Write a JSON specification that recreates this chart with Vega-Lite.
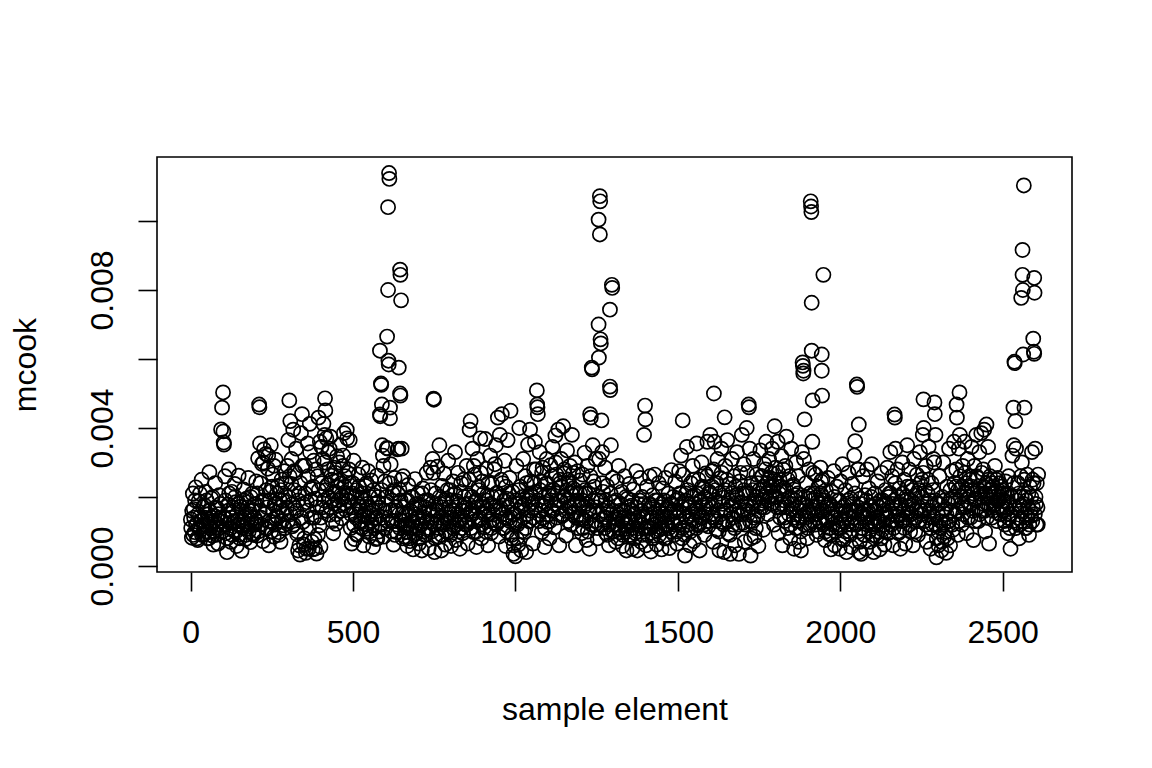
{
  "$schema": "https://vega.github.io/schema/vega-lite/v6.json",
  "autosize": "none",
  "padding": {"left": 157, "top": 157, "right": 80, "bottom": 196},
  "width": 915,
  "height": 415,
  "background": "white",
  "config": {
    "view": {"stroke": "black", "strokeWidth": 1.6},
    "axis": {
      "labelFont": "Liberation Sans",
      "titleFont": "Liberation Sans",
      "labelFontSize": 32,
      "titleFontSize": 32,
      "titleFontWeight": "normal",
      "labelColor": "black",
      "titleColor": "black",
      "tickColor": "black",
      "tickWidth": 1.6,
      "tickSize": 19,
      "grid": false,
      "domain": false,
      "labelOverlap": false,
      "labelFlush": false,
      "labelBound": false
    }
  },
  "data": {"values": [
    {"x":1,"y":0.00135},{"x":4,"y":0.00082},{"x":7,"y":0.00210},{"x":10,"y":0.00165},{"x":13,"y":0.00098},{"x":16,"y":0.00228},{"x":19,"y":0.00120},{"x":22,"y":0.00075},{"x":25,"y":0.00188},{"x":28,"y":0.00142},{"x":31,"y":0.00105},{"x":34,"y":0.00250},{"x":37,"y":0.00132},{"x":40,"y":0.00091},{"x":43,"y":0.00176},{"x":46,"y":0.00215},{"x":49,"y":0.00118},{"x":52,"y":0.00080},{"x":55,"y":0.00150},{"x":58,"y":0.00272},{"x":61,"y":0.00128},{"x":64,"y":0.00196},{"x":67,"y":0.00088},{"x":70,"y":0.00062},{"x":73,"y":0.00145},{"x":76,"y":0.00240},{"x":79,"y":0.00112},{"x":82,"y":0.00168},{"x":85,"y":0.00065},{"x":88,"y":0.00205},{"x":91,"y":0.00138},{"x":94,"y":0.00396},{"x":97,"y":0.00459},{"x":100,"y":0.00503},{"x":101,"y":0.00390},{"x":102,"y":0.00358},{"x":103,"y":0.00352},{"x":106,"y":0.00260},{"x":109,"y":0.00095},{"x":112,"y":0.00040},{"x":115,"y":0.00178},{"x":118,"y":0.00280},{"x":121,"y":0.00125},{"x":124,"y":0.00070},{"x":127,"y":0.00215},{"x":130,"y":0.00155},{"x":133,"y":0.00102},{"x":136,"y":0.00238},{"x":139,"y":0.00185},{"x":142,"y":0.00058},{"x":145,"y":0.00130},{"x":148,"y":0.00262},{"x":151,"y":0.00090},{"x":154,"y":0.00172},{"x":157,"y":0.00044},{"x":160,"y":0.00118},{"x":163,"y":0.00222},{"x":166,"y":0.00140},{"x":169,"y":0.00078},{"x":172,"y":0.00195},{"x":175,"y":0.00108},{"x":178,"y":0.00255},{"x":181,"y":0.00160},{"x":184,"y":0.00069},{"x":187,"y":0.00132},{"x":190,"y":0.00210},{"x":193,"y":0.00095},{"x":196,"y":0.00178},{"x":199,"y":0.00120},
    {"x":202,"y":0.00245},{"x":205,"y":0.00088},{"x":208,"y":0.00312},{"x":211,"y":0.00468},{"x":212,"y":0.00460},{"x":214,"y":0.00355},{"x":217,"y":0.00140},{"x":220,"y":0.00296},{"x":223,"y":0.00072},{"x":226,"y":0.00338},{"x":229,"y":0.00190},{"x":232,"y":0.00325},{"x":235,"y":0.00108},{"x":238,"y":0.00282},{"x":241,"y":0.00060},{"x":244,"y":0.00215},{"x":247,"y":0.00350},{"x":250,"y":0.00128},{"x":253,"y":0.00265},{"x":256,"y":0.00085},{"x":259,"y":0.00178},{"x":262,"y":0.00308},{"x":265,"y":0.00145},{"x":268,"y":0.00232},{"x":271,"y":0.00098},{"x":274,"y":0.00192},{"x":277,"y":0.00070},{"x":280,"y":0.00250},{"x":283,"y":0.00160},{"x":286,"y":0.00118},{"x":289,"y":0.00275},{"x":292,"y":0.00205},{"x":295,"y":0.00150},{"x":298,"y":0.00290},
    {"x":301,"y":0.00365},{"x":304,"y":0.00480},{"x":307,"y":0.00420},{"x":310,"y":0.00238},{"x":313,"y":0.00115},{"x":316,"y":0.00395},{"x":319,"y":0.00275},{"x":322,"y":0.00168},{"x":325,"y":0.00340},{"x":328,"y":0.00092},{"x":331,"y":0.00045},{"x":334,"y":0.00210},{"x":337,"y":0.00033},{"x":340,"y":0.00385},{"x":343,"y":0.00440},{"x":346,"y":0.00128},{"x":349,"y":0.00062},{"x":352,"y":0.00290},{"x":355,"y":0.00038},{"x":358,"y":0.00185},{"x":361,"y":0.00355},{"x":364,"y":0.00050},{"x":367,"y":0.00412},{"x":370,"y":0.00225},{"x":373,"y":0.00140},{"x":376,"y":0.00048},{"x":379,"y":0.00305},{"x":382,"y":0.00078},{"x":385,"y":0.00195},{"x":388,"y":0.00036},{"x":391,"y":0.00260},{"x":394,"y":0.00430},{"x":397,"y":0.00118},{"x":400,"y":0.00055},{"x":403,"y":0.00345},{"x":406,"y":0.00170},{"x":409,"y":0.00412},{"x":412,"y":0.00300},{"x":414,"y":0.00486},{"x":415,"y":0.00451},{"x":418,"y":0.00370},{"x":421,"y":0.00235},
    {"x":424,"y":0.00330},{"x":427,"y":0.00148},{"x":430,"y":0.00375},{"x":433,"y":0.00262},{"x":436,"y":0.00190},{"x":439,"y":0.00095},{"x":442,"y":0.00285},{"x":445,"y":0.00215},{"x":448,"y":0.00122},{"x":451,"y":0.00318},{"x":454,"y":0.00248},{"x":457,"y":0.00175},{"x":460,"y":0.00350},{"x":463,"y":0.00205},{"x":466,"y":0.00138},{"x":469,"y":0.00290},{"x":472,"y":0.00385},{"x":475,"y":0.00230},{"x":478,"y":0.00162},{"x":481,"y":0.00395},{"x":484,"y":0.00270},{"x":487,"y":0.00188},{"x":490,"y":0.00365},{"x":493,"y":0.00110},{"x":496,"y":0.00065},{"x":499,"y":0.00240},
    {"x":502,"y":0.00305},{"x":505,"y":0.00078},{"x":508,"y":0.00150},{"x":511,"y":0.00220},{"x":514,"y":0.00092},{"x":517,"y":0.00265},{"x":520,"y":0.00172},{"x":523,"y":0.00125},{"x":526,"y":0.00198},{"x":529,"y":0.00285},{"x":532,"y":0.00060},{"x":535,"y":0.00145},{"x":538,"y":0.00232},{"x":541,"y":0.00108},{"x":544,"y":0.00180},{"x":547,"y":0.00275},{"x":550,"y":0.00085},{"x":553,"y":0.00152},{"x":556,"y":0.00248},{"x":559,"y":0.00118},{"x":562,"y":0.00055},{"x":565,"y":0.00205},{"x":568,"y":0.00140},{"x":571,"y":0.00078},{"x":574,"y":0.00262},{"x":577,"y":0.00185},
    {"x":580,"y":0.00100},{"x":583,"y":0.00624},{"x":583,"y":0.00439},{"x":584,"y":0.00434},{"x":586,"y":0.00529},{"x":587,"y":0.00525},{"x":589,"y":0.00468},{"x":590,"y":0.00350},{"x":592,"y":0.00320},{"x":595,"y":0.00085},{"x":598,"y":0.00245},{"x":601,"y":0.00180},{"x":604,"y":0.00342},{"x":605,"y":0.00665},{"x":608,"y":0.01040},{"x":608,"y":0.00800},{"x":609,"y":0.00595},{"x":610,"y":0.00584},{"x":611,"y":0.01139},{"x":612,"y":0.01122},{"x":614,"y":0.00459},{"x":614,"y":0.00428},{"x":616,"y":0.00295},{"x":619,"y":0.00130},{"x":622,"y":0.00210},{"x":625,"y":0.00062},{"x":628,"y":0.00255},{"x":631,"y":0.00160},{"x":634,"y":0.00098},{"x":637,"y":0.00338},{"x":641,"y":0.00575},{"x":643,"y":0.00222},{"x":645,"y":0.00859},{"x":646,"y":0.00844},{"x":645,"y":0.00500},{"x":646,"y":0.00494},{"x":648,"y":0.00770},{"x":650,"y":0.00340},{"x":652,"y":0.00150},{"x":655,"y":0.00260},{"x":658,"y":0.00085},
    {"x":661,"y":0.00190},{"x":664,"y":0.00112},{"x":667,"y":0.00058},{"x":670,"y":0.00235},{"x":673,"y":0.00145},{"x":676,"y":0.00072},{"x":679,"y":0.00200},{"x":682,"y":0.00128},{"x":685,"y":0.00048},{"x":688,"y":0.00168},{"x":691,"y":0.00252},{"x":694,"y":0.00095},{"x":697,"y":0.00140},{"x":700,"y":0.00210},{"x":703,"y":0.00065},{"x":706,"y":0.00178},{"x":709,"y":0.00120},{"x":712,"y":0.00045},{"x":715,"y":0.00225},{"x":718,"y":0.00155},{"x":721,"y":0.00090},{"x":724,"y":0.00190},{"x":727,"y":0.00270},{"x":730,"y":0.00105},{"x":733,"y":0.00052},{"x":736,"y":0.00165},{"x":739,"y":0.00285},{"x":742,"y":0.00128},{"x":745,"y":0.00310},{"x":748,"y":0.00485},{"x":749,"y":0.00482},{"x":751,"y":0.00040},{"x":754,"y":0.00210},
    {"x":757,"y":0.00148},{"x":760,"y":0.00288},{"x":763,"y":0.00085},{"x":766,"y":0.00350},{"x":769,"y":0.00180},{"x":772,"y":0.00045},{"x":775,"y":0.00232},{"x":778,"y":0.00125},{"x":781,"y":0.00268},{"x":784,"y":0.00062},{"x":787,"y":0.00195},{"x":790,"y":0.00140},{"x":793,"y":0.00305},{"x":796,"y":0.00100},{"x":799,"y":0.00220},{"x":802,"y":0.00058},{"x":805,"y":0.00162},{"x":808,"y":0.00245},{"x":811,"y":0.00118},{"x":814,"y":0.00330},{"x":817,"y":0.00075},{"x":820,"y":0.00188},{"x":823,"y":0.00270},{"x":826,"y":0.00135},{"x":829,"y":0.00050},{"x":832,"y":0.00215},{"x":835,"y":0.00160},{"x":838,"y":0.00095},{"x":841,"y":0.00250},{"x":844,"y":0.00178},{"x":847,"y":0.00120},
    {"x":850,"y":0.00290},{"x":853,"y":0.00065},{"x":856,"y":0.00205},{"x":859,"y":0.00395},{"x":862,"y":0.00420},{"x":865,"y":0.00150},{"x":868,"y":0.00340},{"x":871,"y":0.00098},{"x":874,"y":0.00265},{"x":877,"y":0.00185},{"x":880,"y":0.00055},{"x":883,"y":0.00310},{"x":886,"y":0.00228},{"x":889,"y":0.00132},{"x":892,"y":0.00370},{"x":895,"y":0.00080},{"x":898,"y":0.00245},{"x":901,"y":0.00170},{"x":904,"y":0.00112},{"x":907,"y":0.00368},{"x":910,"y":0.00282},{"x":913,"y":0.00205},{"x":916,"y":0.00060},{"x":919,"y":0.00150},{"x":922,"y":0.00320},{"x":925,"y":0.00095},{"x":928,"y":0.00238},{"x":931,"y":0.00175},{"x":934,"y":0.00125},{"x":937,"y":0.00295},{"x":940,"y":0.00350},{"x":943,"y":0.00212},{"x":946,"y":0.00430},{"x":949,"y":0.00085},
    {"x":952,"y":0.00380},{"x":955,"y":0.00168},{"x":958,"y":0.00440},{"x":961,"y":0.00240},{"x":964,"y":0.00110},{"x":967,"y":0.00305},{"x":970,"y":0.00058},{"x":973,"y":0.00195},{"x":976,"y":0.00365},{"x":979,"y":0.00138},{"x":982,"y":0.00255},{"x":985,"y":0.00450},{"x":988,"y":0.00080},{"x":991,"y":0.00215},{"x":994,"y":0.00035},{"x":997,"y":0.00150},{"x":1000,"y":0.00028},{"x":1003,"y":0.00290},{"x":1006,"y":0.00120},{"x":1009,"y":0.00062},{"x":1012,"y":0.00400},{"x":1015,"y":0.00230},{"x":1018,"y":0.00045},{"x":1021,"y":0.00175},{"x":1024,"y":0.00310},{"x":1027,"y":0.00098},{"x":1030,"y":0.00260},{"x":1033,"y":0.00040},{"x":1036,"y":0.00200},{"x":1039,"y":0.00352},{"x":1042,"y":0.00130},{"x":1045,"y":0.00395},{"x":1048,"y":0.00245},
    {"x":1051,"y":0.00182},{"x":1054,"y":0.00065},{"x":1057,"y":0.00280},{"x":1060,"y":0.00360},{"x":1063,"y":0.00215},{"x":1066,"y":0.00509},{"x":1067,"y":0.00468},{"x":1068,"y":0.00460},{"x":1069,"y":0.00440},{"x":1072,"y":0.00150},{"x":1075,"y":0.00330},{"x":1078,"y":0.00245},{"x":1081,"y":0.00098},{"x":1084,"y":0.00285},{"x":1087,"y":0.00175},{"x":1090,"y":0.00055},{"x":1093,"y":0.00238},{"x":1096,"y":0.00310},{"x":1099,"y":0.00128},{"x":1102,"y":0.00205},{"x":1105,"y":0.00080},{"x":1108,"y":0.00292},{"x":1111,"y":0.00160},{"x":1114,"y":0.00345},{"x":1117,"y":0.00220},{"x":1120,"y":0.00112},{"x":1123,"y":0.00378},{"x":1126,"y":0.00265},{"x":1129,"y":0.00190},{"x":1132,"y":0.00395},{"x":1135,"y":0.00060},{"x":1138,"y":0.00240},{"x":1141,"y":0.00310},{"x":1144,"y":0.00145},{"x":1147,"y":0.00405},{"x":1150,"y":0.00268},{"x":1153,"y":0.00200},{"x":1156,"y":0.00088},{"x":1159,"y":0.00335},{"x":1162,"y":0.00250},{"x":1165,"y":0.00172},{"x":1168,"y":0.00290},{"x":1171,"y":0.00120},{"x":1174,"y":0.00380},{"x":1177,"y":0.00225},{"x":1180,"y":0.00155},{"x":1183,"y":0.00300},{"x":1186,"y":0.00060},{"x":1189,"y":0.00212},{"x":1192,"y":0.00275},{"x":1195,"y":0.00138},{"x":1198,"y":0.00248},
    {"x":1201,"y":0.00180},{"x":1204,"y":0.00095},{"x":1207,"y":0.00265},{"x":1210,"y":0.00135},{"x":1213,"y":0.00328},{"x":1216,"y":0.00210},{"x":1219,"y":0.00075},{"x":1222,"y":0.00290},{"x":1225,"y":0.00160},{"x":1228,"y":0.00050},{"x":1230,"y":0.00440},{"x":1232,"y":0.00430},{"x":1235,"y":0.00575},{"x":1236,"y":0.00570},{"x":1238,"y":0.00350},{"x":1241,"y":0.00245},{"x":1244,"y":0.00120},{"x":1247,"y":0.00310},{"x":1250,"y":0.00190},{"x":1253,"y":0.00080},{"x":1256,"y":0.01004},{"x":1256,"y":0.00700},{"x":1257,"y":0.00604},{"x":1260,"y":0.01072},{"x":1261,"y":0.01057},{"x":1260,"y":0.00961},{"x":1262,"y":0.00657},{"x":1263,"y":0.00645},{"x":1265,"y":0.00422},{"x":1267,"y":0.00330},{"x":1270,"y":0.00215},{"x":1273,"y":0.00140},{"x":1276,"y":0.00285},{"x":1279,"y":0.00095},{"x":1282,"y":0.00232},{"x":1285,"y":0.00168},{"x":1288,"y":0.00060},{"x":1291,"y":0.00743},{"x":1291,"y":0.00520},{"x":1292,"y":0.00510},{"x":1294,"y":0.00350},{"x":1297,"y":0.00815},{"x":1298,"y":0.00806},{"x":1300,"y":0.00255},
    {"x":1303,"y":0.00120},{"x":1306,"y":0.00185},{"x":1309,"y":0.00070},{"x":1312,"y":0.00245},{"x":1315,"y":0.00135},{"x":1318,"y":0.00290},{"x":1321,"y":0.00098},{"x":1324,"y":0.00160},{"x":1327,"y":0.00215},{"x":1330,"y":0.00058},{"x":1333,"y":0.00140},{"x":1336,"y":0.00260},{"x":1339,"y":0.00108},{"x":1342,"y":0.00045},{"x":1345,"y":0.00195},{"x":1348,"y":0.00132},{"x":1351,"y":0.00238},{"x":1354,"y":0.00085},{"x":1357,"y":0.00175},{"x":1360,"y":0.00050},{"x":1363,"y":0.00222},{"x":1366,"y":0.00150},{"x":1369,"y":0.00095},{"x":1372,"y":0.00275},{"x":1375,"y":0.00045},{"x":1378,"y":0.00180},{"x":1381,"y":0.00128},{"x":1384,"y":0.00255},{"x":1387,"y":0.00070},{"x":1390,"y":0.00200},{"x":1393,"y":0.00145},{"x":1396,"y":0.00380},{"x":1399,"y":0.00465},{"x":1400,"y":0.00425},{"x":1402,"y":0.00060},
    {"x":1405,"y":0.00230},{"x":1408,"y":0.00112},{"x":1411,"y":0.00178},{"x":1414,"y":0.00260},{"x":1417,"y":0.00042},{"x":1420,"y":0.00150},{"x":1423,"y":0.00205},{"x":1426,"y":0.00088},{"x":1429,"y":0.00265},{"x":1432,"y":0.00130},{"x":1435,"y":0.00062},{"x":1438,"y":0.00190},{"x":1441,"y":0.00240},{"x":1444,"y":0.00105},{"x":1447,"y":0.00170},{"x":1450,"y":0.00048},{"x":1453,"y":0.00225},{"x":1456,"y":0.00142},{"x":1459,"y":0.00080},{"x":1462,"y":0.00255},{"x":1465,"y":0.00165},{"x":1468,"y":0.00118},{"x":1471,"y":0.00210},{"x":1474,"y":0.00052},{"x":1477,"y":0.00180},{"x":1480,"y":0.00278},{"x":1483,"y":0.00125},{"x":1486,"y":0.00200},{"x":1489,"y":0.00090},{"x":1492,"y":0.00245},{"x":1495,"y":0.00155},{"x":1498,"y":0.00065},
    {"x":1501,"y":0.00195},{"x":1504,"y":0.00275},{"x":1507,"y":0.00120},{"x":1510,"y":0.00320},{"x":1513,"y":0.00080},{"x":1515,"y":0.00422},{"x":1516,"y":0.00265},{"x":1519,"y":0.00150},{"x":1522,"y":0.00030},{"x":1525,"y":0.00210},{"x":1528,"y":0.00345},{"x":1531,"y":0.00105},{"x":1534,"y":0.00178},{"x":1537,"y":0.00060},{"x":1540,"y":0.00240},{"x":1543,"y":0.00135},{"x":1546,"y":0.00290},{"x":1549,"y":0.00072},{"x":1552,"y":0.00205},{"x":1555,"y":0.00160},{"x":1558,"y":0.00355},{"x":1561,"y":0.00118},{"x":1564,"y":0.00250},{"x":1567,"y":0.00045},{"x":1570,"y":0.00185},{"x":1573,"y":0.00300},{"x":1576,"y":0.00140},{"x":1579,"y":0.00225},{"x":1582,"y":0.00090},{"x":1585,"y":0.00268},{"x":1588,"y":0.00170},{"x":1591,"y":0.00360},{"x":1594,"y":0.00115},{"x":1597,"y":0.00215},
    {"x":1600,"y":0.00380},{"x":1603,"y":0.00150},{"x":1606,"y":0.00275},{"x":1609,"y":0.00070},{"x":1611,"y":0.00500},{"x":1613,"y":0.00360},{"x":1616,"y":0.00220},{"x":1619,"y":0.00105},{"x":1622,"y":0.00310},{"x":1625,"y":0.00185},{"x":1628,"y":0.00045},{"x":1631,"y":0.00255},{"x":1634,"y":0.00340},{"x":1637,"y":0.00128},{"x":1640,"y":0.00198},{"x":1643,"y":0.00040},{"x":1644,"y":0.00431},{"x":1646,"y":0.00290},{"x":1649,"y":0.00162},{"x":1652,"y":0.00365},{"x":1655,"y":0.00095},{"x":1658,"y":0.00238},{"x":1661,"y":0.00035},{"x":1664,"y":0.00175},{"x":1667,"y":0.00310},{"x":1670,"y":0.00120},{"x":1673,"y":0.00260},{"x":1676,"y":0.00060},{"x":1679,"y":0.00205},{"x":1682,"y":0.00330},{"x":1685,"y":0.00150},{"x":1688,"y":0.00035},{"x":1691,"y":0.00245},{"x":1694,"y":0.00185},{"x":1697,"y":0.00380},
    {"x":1700,"y":0.00125},{"x":1703,"y":0.00295},{"x":1706,"y":0.00070},{"x":1709,"y":0.00210},{"x":1712,"y":0.00400},{"x":1715,"y":0.00160},{"x":1718,"y":0.00468},{"x":1719,"y":0.00460},{"x":1721,"y":0.00340},{"x":1724,"y":0.00030},{"x":1727,"y":0.00240},{"x":1730,"y":0.00130},{"x":1733,"y":0.00310},{"x":1736,"y":0.00085},{"x":1739,"y":0.00190},{"x":1742,"y":0.00265},{"x":1745,"y":0.00145},{"x":1748,"y":0.00058},{"x":1751,"y":0.00220},{"x":1754,"y":0.00335},{"x":1757,"y":0.00170},{"x":1760,"y":0.00260},{"x":1763,"y":0.00105},{"x":1766,"y":0.00295},{"x":1769,"y":0.00200},{"x":1772,"y":0.00360},{"x":1775,"y":0.00240},{"x":1778,"y":0.00150},{"x":1781,"y":0.00310},{"x":1784,"y":0.00255},{"x":1787,"y":0.00180},{"x":1790,"y":0.00340},{"x":1793,"y":0.00230},{"x":1796,"y":0.00120},{"x":1798,"y":0.00405},
    {"x":1801,"y":0.00285},{"x":1804,"y":0.00200},{"x":1807,"y":0.00360},{"x":1810,"y":0.00095},{"x":1813,"y":0.00250},{"x":1816,"y":0.00170},{"x":1819,"y":0.00318},{"x":1822,"y":0.00060},{"x":1825,"y":0.00225},{"x":1828,"y":0.00140},{"x":1831,"y":0.00290},{"x":1834,"y":0.00375},{"x":1837,"y":0.00110},{"x":1840,"y":0.00195},{"x":1843,"y":0.00260},{"x":1846,"y":0.00080},{"x":1849,"y":0.00340},{"x":1852,"y":0.00165},{"x":1855,"y":0.00235},{"x":1858,"y":0.00050},{"x":1861,"y":0.00205},{"x":1864,"y":0.00300},{"x":1867,"y":0.00130},{"x":1870,"y":0.00260},{"x":1873,"y":0.00070},{"x":1876,"y":0.00180},{"x":1879,"y":0.00045},
    {"x":1882,"y":0.00330},{"x":1884,"y":0.00590},{"x":1885,"y":0.00580},{"x":1886,"y":0.00558},{"x":1887,"y":0.00566},{"x":1888,"y":0.00310},{"x":1890,"y":0.00425},{"x":1892,"y":0.00150},{"x":1895,"y":0.00240},{"x":1898,"y":0.00080},{"x":1901,"y":0.00195},{"x":1904,"y":0.00280},{"x":1907,"y":0.00120},{"x":1909,"y":0.01057},{"x":1910,"y":0.01042},{"x":1911,"y":0.01026},{"x":1912,"y":0.00763},{"x":1912,"y":0.00624},{"x":1914,"y":0.00360},{"x":1915,"y":0.00480},{"x":1918,"y":0.00210},{"x":1921,"y":0.00150},{"x":1924,"y":0.00265},{"x":1927,"y":0.00090},{"x":1930,"y":0.00185},{"x":1933,"y":0.00230},{"x":1936,"y":0.00130},{"x":1939,"y":0.00285},{"x":1941,"y":0.00245},{"x":1943,"y":0.00613},{"x":1943,"y":0.00566},{"x":1944,"y":0.00494},{"x":1946,"y":0.00200},{"x":1948,"y":0.00844},{"x":1950,"y":0.00160},{"x":1953,"y":0.00075},{"x":1956,"y":0.00220},{"x":1959,"y":0.00135},
    {"x":1962,"y":0.00255},{"x":1965,"y":0.00092},{"x":1968,"y":0.00180},{"x":1971,"y":0.00048},{"x":1974,"y":0.00215},{"x":1977,"y":0.00140},{"x":1980,"y":0.00275},{"x":1983,"y":0.00060},{"x":1986,"y":0.00165},{"x":1989,"y":0.00230},{"x":1992,"y":0.00110},{"x":1995,"y":0.00190},{"x":1998,"y":0.00050},{"x":2001,"y":0.00245},{"x":2004,"y":0.00130},{"x":2007,"y":0.00295},{"x":2010,"y":0.00075},{"x":2013,"y":0.00175},{"x":2016,"y":0.00220},{"x":2019,"y":0.00040},{"x":2022,"y":0.00150},{"x":2025,"y":0.00270},{"x":2028,"y":0.00100},{"x":2031,"y":0.00195},{"x":2034,"y":0.00055},{"x":2037,"y":0.00238},{"x":2040,"y":0.00160},{"x":2043,"y":0.00320},{"x":2046,"y":0.00362},{"x":2049,"y":0.00120},
    {"x":2051,"y":0.00526},{"x":2052,"y":0.00519},{"x":2055,"y":0.00280},{"x":2057,"y":0.00410},{"x":2058,"y":0.00040},{"x":2061,"y":0.00195},{"x":2064,"y":0.00035},{"x":2067,"y":0.00150},{"x":2070,"y":0.00260},{"x":2073,"y":0.00090},{"x":2076,"y":0.00205},{"x":2079,"y":0.00050},{"x":2082,"y":0.00280},{"x":2085,"y":0.00140},{"x":2088,"y":0.00225},{"x":2091,"y":0.00070},{"x":2094,"y":0.00175},{"x":2097,"y":0.00295},{"x":2100,"y":0.00115},{"x":2103,"y":0.00040},{"x":2106,"y":0.00210},{"x":2109,"y":0.00160},{"x":2112,"y":0.00085},{"x":2115,"y":0.00245},{"x":2118,"y":0.00130},{"x":2121,"y":0.00048},{"x":2124,"y":0.00190},{"x":2127,"y":0.00270},{"x":2130,"y":0.00105},{"x":2133,"y":0.00175},{"x":2136,"y":0.00062},{"x":2139,"y":0.00220},{"x":2142,"y":0.00150},{"x":2145,"y":0.00285},{"x":2148,"y":0.00095},
    {"x":2151,"y":0.00210},{"x":2154,"y":0.00330},{"x":2157,"y":0.00120},{"x":2160,"y":0.00260},{"x":2163,"y":0.00060},{"x":2166,"y":0.00190},{"x":2167,"y":0.00439},{"x":2168,"y":0.00430},{"x":2170,"y":0.00340},{"x":2173,"y":0.00145},{"x":2176,"y":0.00280},{"x":2179,"y":0.00095},{"x":2182,"y":0.00225},{"x":2185,"y":0.00050},{"x":2188,"y":0.00175},{"x":2191,"y":0.00300},{"x":2194,"y":0.00130},{"x":2197,"y":0.00250},{"x":2200,"y":0.00065},{"x":2203,"y":0.00200},{"x":2206,"y":0.00350},{"x":2209,"y":0.00155},{"x":2212,"y":0.00280},{"x":2215,"y":0.00100},{"x":2218,"y":0.00230},{"x":2221,"y":0.00175},{"x":2224,"y":0.00060},{"x":2227,"y":0.00310},{"x":2230,"y":0.00205},{"x":2233,"y":0.00140},{"x":2236,"y":0.00265},{"x":2239,"y":0.00090},{"x":2242,"y":0.00220},{"x":2245,"y":0.00330},{"x":2248,"y":0.00160},
    {"x":2251,"y":0.00250},{"x":2254,"y":0.00380},{"x":2256,"y":0.00483},{"x":2257,"y":0.00400},{"x":2260,"y":0.00130},{"x":2263,"y":0.00290},{"x":2266,"y":0.00070},{"x":2269,"y":0.00210},{"x":2272,"y":0.00345},{"x":2275,"y":0.00160},{"x":2278,"y":0.00050},{"x":2281,"y":0.00240},{"x":2284,"y":0.00120},{"x":2287,"y":0.00310},{"x":2290,"y":0.00474},{"x":2291,"y":0.00440},{"x":2293,"y":0.00380},{"x":2296,"y":0.00025},{"x":2299,"y":0.00180},{"x":2302,"y":0.00060},{"x":2305,"y":0.00260},{"x":2308,"y":0.00110},{"x":2311,"y":0.00045},{"x":2314,"y":0.00200},{"x":2317,"y":0.00300},{"x":2320,"y":0.00085},{"x":2323,"y":0.00165},{"x":2326,"y":0.00038},{"x":2329,"y":0.00230},{"x":2332,"y":0.00130},{"x":2335,"y":0.00340},{"x":2338,"y":0.00060},{"x":2341,"y":0.00195},{"x":2344,"y":0.00275},{"x":2347,"y":0.00105},
    {"x":2350,"y":0.00360},{"x":2353,"y":0.00150},{"x":2356,"y":0.00230},{"x":2358,"y":0.00468},{"x":2359,"y":0.00430},{"x":2362,"y":0.00090},{"x":2365,"y":0.00340},{"x":2367,"y":0.00503},{"x":2368,"y":0.00380},{"x":2371,"y":0.00200},{"x":2374,"y":0.00120},{"x":2377,"y":0.00290},{"x":2380,"y":0.00170},{"x":2383,"y":0.00360},{"x":2386,"y":0.00240},{"x":2389,"y":0.00095},{"x":2392,"y":0.00310},{"x":2395,"y":0.00185},{"x":2398,"y":0.00260},{"x":2401,"y":0.00140},{"x":2404,"y":0.00345},{"x":2407,"y":0.00220},{"x":2410,"y":0.00075},{"x":2413,"y":0.00290},{"x":2416,"y":0.00195},{"x":2419,"y":0.00380},{"x":2422,"y":0.00255},{"x":2425,"y":0.00130},{"x":2428,"y":0.00330},{"x":2431,"y":0.00210},{"x":2434,"y":0.00385},{"x":2437,"y":0.00160},{"x":2440,"y":0.00280},{"x":2443,"y":0.00395},{"x":2446,"y":0.00100},{"x":2449,"y":0.00240},{"x":2450,"y":0.00410},{"x":2452,"y":0.00180},{"x":2455,"y":0.00345},{"x":2458,"y":0.00065},{"x":2461,"y":0.00260},{"x":2464,"y":0.00200},{"x":2467,"y":0.00140},{"x":2470,"y":0.00230},{"x":2473,"y":0.00175},{"x":2476,"y":0.00290},{"x":2479,"y":0.00215},{"x":2482,"y":0.00130},{"x":2485,"y":0.00255},{"x":2488,"y":0.00190},{"x":2491,"y":0.00240},{"x":2494,"y":0.00150},{"x":2497,"y":0.00220},{"x":2500,"y":0.00170},
    {"x":2503,"y":0.00210},{"x":2506,"y":0.00130},{"x":2509,"y":0.00245},{"x":2512,"y":0.00185},{"x":2515,"y":0.00095},{"x":2518,"y":0.00260},{"x":2521,"y":0.00150},{"x":2524,"y":0.00050},{"x":2527,"y":0.00200},{"x":2530,"y":0.00320},{"x":2533,"y":0.00459},{"x":2534,"y":0.00350},{"x":2536,"y":0.00592},{"x":2537,"y":0.00588},{"x":2539,"y":0.00420},{"x":2541,"y":0.00340},{"x":2544,"y":0.00125},{"x":2547,"y":0.00240},{"x":2550,"y":0.00080},{"x":2553,"y":0.00175},{"x":2556,"y":0.00260},{"x":2557,"y":0.00777},{"x":2559,"y":0.00300},{"x":2561,"y":0.00916},{"x":2561,"y":0.00844},{"x":2562,"y":0.00800},{"x":2563,"y":0.00613},{"x":2565,"y":0.01103},{"x":2567,"y":0.00459},{"x":2569,"y":0.00200},{"x":2572,"y":0.00110},{"x":2575,"y":0.00265},{"x":2578,"y":0.00170},{"x":2581,"y":0.00090},{"x":2584,"y":0.00230},{"x":2587,"y":0.00145},{"x":2590,"y":0.00330},{"x":2592,"y":0.00250},{"x":2594,"y":0.00659},{"x":2596,"y":0.00621},{"x":2597,"y":0.00615},{"x":2597,"y":0.00835},{"x":2598,"y":0.00792},{"x":2600,"y":0.00340},{"x":2602,"y":0.00180},{"x":2605,"y":0.00240},{"x":2608,"y":0.00120},{"x":2609,"y":0.00265},
    {"x":2,"y":0.0011},{"x":5,"y":0.0016},{"x":8,"y":0.0009},{"x":11,"y":0.0014},{"x":14,"y":0.0019},{"x":17,"y":0.0012},{"x":20,"y":0.0008},{"x":23,"y":0.0015},{"x":26,"y":0.0011},{"x":29,"y":0.0021},{"x":32,"y":0.0013},{"x":35,"y":0.0009},{"x":38,"y":0.0017},{"x":41,"y":0.0012},{"x":44,"y":0.0014},{"x":47,"y":0.0010},{"x":50,"y":0.0019},{"x":53,"y":0.0013},{"x":56,"y":0.0008},{"x":59,"y":0.0016},{"x":62,"y":0.0011},{"x":65,"y":0.0014},{"x":68,"y":0.0020},{"x":71,"y":0.0010},{"x":74,"y":0.0013},{"x":77,"y":0.0017},{"x":80,"y":0.0009},{"x":83,"y":0.0012},{"x":86,"y":0.0015},{"x":89,"y":0.0011},{"x":92,"y":0.0018},{"x":95,"y":0.0013},{"x":98,"y":0.0010},
    {"x":104,"y":0.0014},{"x":107,"y":0.0019},{"x":110,"y":0.0012},{"x":113,"y":0.0008},{"x":116,"y":0.0016},{"x":119,"y":0.0021},{"x":122,"y":0.0011},{"x":125,"y":0.0014},{"x":128,"y":0.0009},{"x":131,"y":0.0017},{"x":134,"y":0.0013},{"x":137,"y":0.0020},{"x":140,"y":0.0010},{"x":143,"y":0.0015},{"x":146,"y":0.0012},{"x":149,"y":0.0018},{"x":152,"y":0.0008},{"x":155,"y":0.0013},{"x":158,"y":0.0016},{"x":161,"y":0.0011},{"x":164,"y":0.0019},{"x":167,"y":0.0014},{"x":170,"y":0.0009},{"x":173,"y":0.0012},{"x":176,"y":0.0017},{"x":179,"y":0.0010},{"x":182,"y":0.0015},{"x":185,"y":0.0020},{"x":188,"y":0.0012},{"x":191,"y":0.0016},{"x":194,"y":0.0009},{"x":197,"y":0.0014},
    {"x":200,"y":0.0018},{"x":203,"y":0.0013},{"x":206,"y":0.0021},{"x":209,"y":0.0010},{"x":213,"y":0.0016},{"x":215,"y":0.0024},{"x":218,"y":0.0012},{"x":221,"y":0.0019},{"x":224,"y":0.0030},{"x":227,"y":0.0015},{"x":230,"y":0.0011},{"x":233,"y":0.0022},{"x":236,"y":0.0017},{"x":239,"y":0.0032},{"x":242,"y":0.0013},{"x":245,"y":0.0019},{"x":248,"y":0.0010},{"x":251,"y":0.0023},{"x":254,"y":0.0016},{"x":257,"y":0.0029},{"x":260,"y":0.0012},{"x":263,"y":0.0018},{"x":266,"y":0.0021},{"x":269,"y":0.0014},{"x":272,"y":0.0009},{"x":275,"y":0.0017},{"x":278,"y":0.0022},{"x":281,"y":0.0013},{"x":284,"y":0.0019},{"x":287,"y":0.0015},{"x":290,"y":0.0011},{"x":293,"y":0.0024},{"x":296,"y":0.0017},{"x":299,"y":0.0013},
    {"x":302,"y":0.0020},{"x":305,"y":0.0026},{"x":308,"y":0.0015},{"x":311,"y":0.0031},{"x":314,"y":0.0018},{"x":317,"y":0.0012},{"x":320,"y":0.0022},{"x":323,"y":0.0027},{"x":326,"y":0.0016},{"x":329,"y":0.0010},{"x":332,"y":0.0019},{"x":335,"y":0.0006},{"x":338,"y":0.0024},{"x":341,"y":0.0014},{"x":344,"y":0.0029},{"x":347,"y":0.0018},{"x":350,"y":0.0008},{"x":353,"y":0.0021},{"x":356,"y":0.0005},{"x":359,"y":0.0016},{"x":362,"y":0.0026},{"x":365,"y":0.0011},{"x":368,"y":0.0033},{"x":371,"y":0.0019},{"x":374,"y":0.0007},{"x":377,"y":0.0023},{"x":380,"y":0.0014},{"x":383,"y":0.0005},{"x":386,"y":0.0028},{"x":389,"y":0.0017},{"x":392,"y":0.0009},{"x":395,"y":0.0022},{"x":398,"y":0.0036},
    {"x":401,"y":0.0014},{"x":404,"y":0.0024},{"x":407,"y":0.0031},{"x":410,"y":0.0019},{"x":413,"y":0.0038},{"x":416,"y":0.0022},{"x":419,"y":0.0016},{"x":422,"y":0.0028},{"x":425,"y":0.0020},{"x":428,"y":0.0034},{"x":431,"y":0.0017},{"x":434,"y":0.0025},{"x":437,"y":0.0013},{"x":440,"y":0.0021},{"x":443,"y":0.0018},{"x":446,"y":0.0027},{"x":449,"y":0.0015},{"x":452,"y":0.0023},{"x":455,"y":0.0019},{"x":458,"y":0.0030},{"x":461,"y":0.0016},{"x":464,"y":0.0024},{"x":467,"y":0.0020},{"x":470,"y":0.0032},{"x":473,"y":0.0018},{"x":476,"y":0.0026},{"x":479,"y":0.0021},{"x":482,"y":0.0037},{"x":485,"y":0.0019},{"x":488,"y":0.0028},{"x":491,"y":0.0024},{"x":494,"y":0.0015},{"x":497,"y":0.0021},
    {"x":500,"y":0.0017},{"x":503,"y":0.0012},{"x":506,"y":0.0020},{"x":509,"y":0.0014},{"x":512,"y":0.0009},{"x":515,"y":0.0018},{"x":518,"y":0.0023},{"x":521,"y":0.0013},{"x":524,"y":0.0016},{"x":527,"y":0.0011},{"x":530,"y":0.0021},{"x":533,"y":0.0015},{"x":536,"y":0.0019},{"x":539,"y":0.0012},{"x":542,"y":0.0024},{"x":545,"y":0.0014},{"x":548,"y":0.0017},{"x":551,"y":0.0010},{"x":554,"y":0.0020},{"x":557,"y":0.0013},{"x":560,"y":0.0016},{"x":563,"y":0.0022},{"x":566,"y":0.0011},{"x":569,"y":0.0018},{"x":572,"y":0.0014},{"x":575,"y":0.0008},{"x":578,"y":0.0020},
    {"x":581,"y":0.0017},{"x":585,"y":0.0012},{"x":588,"y":0.0022},{"x":591,"y":0.0014},{"x":594,"y":0.0029},{"x":597,"y":0.0016},{"x":600,"y":0.0011},{"x":603,"y":0.0020},{"x":606,"y":0.0013},{"x":607,"y":0.0034},{"x":613,"y":0.0024},{"x":615,"y":0.0016},{"x":618,"y":0.0010},{"x":620,"y":0.0019},{"x":623,"y":0.0013},{"x":626,"y":0.0022},{"x":629,"y":0.0009},{"x":632,"y":0.0017},{"x":635,"y":0.0012},{"x":638,"y":0.0021},{"x":640,"y":0.0034},{"x":642,"y":0.0015},{"x":644,"y":0.0011},{"x":647,"y":0.0019},{"x":649,"y":0.0025},{"x":651,"y":0.0013},{"x":653,"y":0.0008},{"x":656,"y":0.0017},{"x":659,"y":0.0012},
    {"x":662,"y":0.0015},{"x":665,"y":0.0010},{"x":668,"y":0.0019},{"x":671,"y":0.0012},{"x":674,"y":0.0008},{"x":677,"y":0.0016},{"x":680,"y":0.0011},{"x":683,"y":0.0020},{"x":686,"y":0.0013},{"x":689,"y":0.0009},{"x":692,"y":0.0015},{"x":695,"y":0.0018},{"x":698,"y":0.0011},{"x":701,"y":0.0014},{"x":704,"y":0.0008},{"x":707,"y":0.0017},{"x":710,"y":0.0012},{"x":713,"y":0.0021},{"x":716,"y":0.0010},{"x":719,"y":0.0014},{"x":722,"y":0.0017},{"x":725,"y":0.0009},{"x":728,"y":0.0013},{"x":731,"y":0.0019},{"x":734,"y":0.0011},{"x":737,"y":0.0015},{"x":740,"y":0.0022},{"x":743,"y":0.0010},{"x":746,"y":0.0016},{"x":747,"y":0.0027},{"x":750,"y":0.0012},{"x":753,"y":0.0008},{"x":755,"y":0.0018},{"x":758,"y":0.0013},
    {"x":761,"y":0.0016},{"x":764,"y":0.0011},{"x":767,"y":0.0020},{"x":770,"y":0.0014},{"x":773,"y":0.0009},{"x":776,"y":0.0017},{"x":779,"y":0.0012},{"x":782,"y":0.0019},{"x":785,"y":0.0010},{"x":788,"y":0.0015},{"x":791,"y":0.0022},{"x":794,"y":0.0013},{"x":797,"y":0.0017},{"x":800,"y":0.0009},{"x":803,"y":0.0014},{"x":806,"y":0.0019},{"x":809,"y":0.0011},{"x":812,"y":0.0016},{"x":815,"y":0.0021},{"x":818,"y":0.0012},{"x":821,"y":0.0015},{"x":824,"y":0.0010},{"x":827,"y":0.0018},{"x":830,"y":0.0013},{"x":833,"y":0.0024},{"x":836,"y":0.0011},{"x":839,"y":0.0016},{"x":842,"y":0.0020},{"x":845,"y":0.0013},{"x":848,"y":0.0017},
    {"x":851,"y":0.0012},{"x":854,"y":0.0018},{"x":857,"y":0.0025},{"x":860,"y":0.0015},{"x":863,"y":0.0011},{"x":866,"y":0.0020},{"x":869,"y":0.0016},{"x":872,"y":0.0029},{"x":875,"y":0.0013},{"x":878,"y":0.0019},{"x":881,"y":0.0010},{"x":884,"y":0.0017},{"x":887,"y":0.0022},{"x":890,"y":0.0014},{"x":893,"y":0.0027},{"x":896,"y":0.0012},{"x":899,"y":0.0018},{"x":902,"y":0.0021},{"x":905,"y":0.0015},{"x":908,"y":0.0010},{"x":911,"y":0.0019},{"x":914,"y":0.0016},{"x":917,"y":0.0024},{"x":920,"y":0.0013},{"x":923,"y":0.0018},{"x":926,"y":0.0011},{"x":929,"y":0.0020},{"x":932,"y":0.0015},{"x":935,"y":0.0028},{"x":938,"y":0.0017},{"x":941,"y":0.0012},{"x":944,"y":0.0021},{"x":947,"y":0.0016},
    {"x":950,"y":0.0013},{"x":953,"y":0.0020},{"x":956,"y":0.0025},{"x":959,"y":0.0015},{"x":962,"y":0.0011},{"x":965,"y":0.0019},{"x":968,"y":0.0014},{"x":971,"y":0.0023},{"x":974,"y":0.0010},{"x":977,"y":0.0017},{"x":980,"y":0.0021},{"x":983,"y":0.0013},{"x":986,"y":0.0018},{"x":989,"y":0.0009},{"x":992,"y":0.0015},{"x":995,"y":0.0006},{"x":998,"y":0.0012},{"x":1001,"y":0.0019},{"x":1004,"y":0.0008},{"x":1007,"y":0.0016},{"x":1010,"y":0.0022},{"x":1013,"y":0.0013},{"x":1016,"y":0.0017},{"x":1019,"y":0.0010},{"x":1022,"y":0.0020},{"x":1025,"y":0.0014},{"x":1028,"y":0.0018},{"x":1031,"y":0.0011},{"x":1034,"y":0.0024},{"x":1037,"y":0.0015},{"x":1040,"y":0.0019},{"x":1043,"y":0.0013},{"x":1046,"y":0.0021},{"x":1049,"y":0.0016},
    {"x":1052,"y":0.0020},{"x":1055,"y":0.0014},{"x":1058,"y":0.0024},{"x":1061,"y":0.0017},{"x":1064,"y":0.0028},{"x":1070,"y":0.0019},{"x":1073,"y":0.0013},{"x":1076,"y":0.0022},{"x":1079,"y":0.0016},{"x":1082,"y":0.0027},{"x":1085,"y":0.0014},{"x":1088,"y":0.0020},{"x":1091,"y":0.0011},{"x":1094,"y":0.0018},{"x":1097,"y":0.0024},{"x":1100,"y":0.0015},{"x":1103,"y":0.0021},{"x":1106,"y":0.0013},{"x":1109,"y":0.0019},{"x":1112,"y":0.0026},{"x":1115,"y":0.0016},{"x":1118,"y":0.0022},{"x":1121,"y":0.0018},{"x":1124,"y":0.0030},{"x":1127,"y":0.0014},{"x":1130,"y":0.0021},{"x":1133,"y":0.0017},{"x":1136,"y":0.0025},{"x":1139,"y":0.0019},{"x":1142,"y":0.0023},{"x":1145,"y":0.0015},{"x":1148,"y":0.0020},{"x":1151,"y":0.0028},{"x":1154,"y":0.0016},{"x":1157,"y":0.0022},{"x":1160,"y":0.0019},{"x":1163,"y":0.0013},{"x":1166,"y":0.0024},{"x":1169,"y":0.0017},{"x":1172,"y":0.0021},{"x":1175,"y":0.0015},{"x":1178,"y":0.0027},{"x":1181,"y":0.0018},{"x":1184,"y":0.0022},{"x":1187,"y":0.0014},{"x":1190,"y":0.0019},{"x":1193,"y":0.0011},{"x":1196,"y":0.0017},{"x":1199,"y":0.0021},
    {"x":1202,"y":0.0014},{"x":1205,"y":0.0019},{"x":1208,"y":0.0011},{"x":1211,"y":0.0017},{"x":1214,"y":0.0022},{"x":1217,"y":0.0013},{"x":1220,"y":0.0018},{"x":1223,"y":0.0010},{"x":1226,"y":0.0021},{"x":1229,"y":0.0015},{"x":1231,"y":0.0026},{"x":1234,"y":0.0012},{"x":1237,"y":0.0019},{"x":1240,"y":0.0016},{"x":1243,"y":0.0023},{"x":1246,"y":0.0013},{"x":1249,"y":0.0017},{"x":1252,"y":0.0011},{"x":1255,"y":0.0020},{"x":1258,"y":0.0031},{"x":1259,"y":0.0015},{"x":1264,"y":0.0019},{"x":1266,"y":0.0012},{"x":1268,"y":0.0024},{"x":1271,"y":0.0016},{"x":1274,"y":0.0011},{"x":1277,"y":0.0019},{"x":1280,"y":0.0014},{"x":1283,"y":0.0009},{"x":1286,"y":0.0017},{"x":1289,"y":0.0012},{"x":1293,"y":0.0021},{"x":1295,"y":0.0015},{"x":1299,"y":0.0010},
    {"x":1301,"y":0.0016},{"x":1304,"y":0.0010},{"x":1307,"y":0.0014},{"x":1310,"y":0.0019},{"x":1313,"y":0.0012},{"x":1316,"y":0.0008},{"x":1319,"y":0.0015},{"x":1322,"y":0.0011},{"x":1325,"y":0.0018},{"x":1328,"y":0.0013},{"x":1331,"y":0.0009},{"x":1334,"y":0.0016},{"x":1337,"y":0.0012},{"x":1340,"y":0.0020},{"x":1343,"y":0.0010},{"x":1346,"y":0.0014},{"x":1349,"y":0.0017},{"x":1352,"y":0.0009},{"x":1355,"y":0.0013},{"x":1358,"y":0.0019},{"x":1361,"y":0.0011},{"x":1364,"y":0.0015},{"x":1367,"y":0.0008},{"x":1370,"y":0.0013},{"x":1373,"y":0.0017},{"x":1376,"y":0.0010},{"x":1379,"y":0.0014},{"x":1382,"y":0.0019},{"x":1385,"y":0.0012},{"x":1388,"y":0.0016},{"x":1391,"y":0.0009},{"x":1394,"y":0.0014},{"x":1397,"y":0.0018},
    {"x":1401,"y":0.0011},{"x":1404,"y":0.0015},{"x":1407,"y":0.0009},{"x":1410,"y":0.0013},{"x":1413,"y":0.0018},{"x":1416,"y":0.0011},{"x":1419,"y":0.0014},{"x":1422,"y":0.0008},{"x":1425,"y":0.0017},{"x":1428,"y":0.0012},{"x":1431,"y":0.0019},{"x":1434,"y":0.0010},{"x":1437,"y":0.0014},{"x":1440,"y":0.0016},{"x":1443,"y":0.0009},{"x":1446,"y":0.0013},{"x":1449,"y":0.0018},{"x":1452,"y":0.0011},{"x":1455,"y":0.0015},{"x":1458,"y":0.0019},{"x":1461,"y":0.0012},{"x":1464,"y":0.0008},{"x":1467,"y":0.0014},{"x":1470,"y":0.0017},{"x":1473,"y":0.0011},{"x":1476,"y":0.0015},{"x":1479,"y":0.0010},{"x":1482,"y":0.0018},{"x":1485,"y":0.0013},{"x":1488,"y":0.0016},{"x":1491,"y":0.0012},{"x":1494,"y":0.0019},{"x":1497,"y":0.0014},
    {"x":1500,"y":0.0010},{"x":1503,"y":0.0016},{"x":1506,"y":0.0021},{"x":1509,"y":0.0013},{"x":1512,"y":0.0018},{"x":1514,"y":0.0011},{"x":1518,"y":0.0015},{"x":1521,"y":0.0009},{"x":1524,"y":0.0019},{"x":1527,"y":0.0014},{"x":1530,"y":0.0022},{"x":1533,"y":0.0012},{"x":1536,"y":0.0017},{"x":1539,"y":0.0010},{"x":1542,"y":0.0020},{"x":1545,"y":0.0015},{"x":1548,"y":0.0025},{"x":1551,"y":0.0013},{"x":1554,"y":0.0018},{"x":1557,"y":0.0011},{"x":1560,"y":0.0021},{"x":1563,"y":0.0016},{"x":1566,"y":0.0012},{"x":1569,"y":0.0019},{"x":1572,"y":0.0014},{"x":1575,"y":0.0023},{"x":1578,"y":0.0017},{"x":1581,"y":0.0012},{"x":1584,"y":0.0020},{"x":1587,"y":0.0015},{"x":1590,"y":0.0026},{"x":1593,"y":0.0018},{"x":1596,"y":0.0013},{"x":1599,"y":0.0021},
    {"x":1602,"y":0.0017},{"x":1605,"y":0.0023},{"x":1608,"y":0.0014},{"x":1610,"y":0.0028},{"x":1614,"y":0.0019},{"x":1617,"y":0.0013},{"x":1620,"y":0.0024},{"x":1623,"y":0.0016},{"x":1626,"y":0.0010},{"x":1629,"y":0.0021},{"x":1632,"y":0.0015},{"x":1635,"y":0.0027},{"x":1638,"y":0.0018},{"x":1641,"y":0.0012},{"x":1645,"y":0.0022},{"x":1648,"y":0.0016},{"x":1651,"y":0.0025},{"x":1654,"y":0.0013},{"x":1657,"y":0.0019},{"x":1660,"y":0.0009},{"x":1663,"y":0.0015},{"x":1666,"y":0.0021},{"x":1669,"y":0.0014},{"x":1672,"y":0.0018},{"x":1675,"y":0.0011},{"x":1678,"y":0.0023},{"x":1681,"y":0.0016},{"x":1684,"y":0.0020},{"x":1687,"y":0.0012},{"x":1690,"y":0.0017},{"x":1693,"y":0.0027},{"x":1696,"y":0.0015},{"x":1699,"y":0.0021},
    {"x":1701,"y":0.0016},{"x":1704,"y":0.0022},{"x":1707,"y":0.0012},{"x":1710,"y":0.0018},{"x":1713,"y":0.0027},{"x":1716,"y":0.0015},{"x":1720,"y":0.0021},{"x":1722,"y":0.0013},{"x":1725,"y":0.0008},{"x":1728,"y":0.0017},{"x":1731,"y":0.0022},{"x":1734,"y":0.0014},{"x":1737,"y":0.0019},{"x":1740,"y":0.0011},{"x":1743,"y":0.0020},{"x":1746,"y":0.0024},{"x":1749,"y":0.0016},{"x":1752,"y":0.0021},{"x":1755,"y":0.0018},{"x":1758,"y":0.0026},{"x":1761,"y":0.0019},{"x":1764,"y":0.0023},{"x":1767,"y":0.0017},{"x":1770,"y":0.0028},{"x":1773,"y":0.0021},{"x":1776,"y":0.0019},{"x":1779,"y":0.0025},{"x":1782,"y":0.0020},{"x":1785,"y":0.0023},{"x":1788,"y":0.0027},{"x":1791,"y":0.0018},{"x":1794,"y":0.0022},{"x":1797,"y":0.0025},
    {"x":1800,"y":0.0020},{"x":1803,"y":0.0024},{"x":1806,"y":0.0017},{"x":1809,"y":0.0027},{"x":1812,"y":0.0021},{"x":1815,"y":0.0014},{"x":1818,"y":0.0023},{"x":1821,"y":0.0018},{"x":1824,"y":0.0028},{"x":1827,"y":0.0019},{"x":1830,"y":0.0013},{"x":1833,"y":0.0022},{"x":1836,"y":0.0017},{"x":1839,"y":0.0025},{"x":1842,"y":0.0015},{"x":1845,"y":0.0020},{"x":1848,"y":0.0012},{"x":1851,"y":0.0018},{"x":1854,"y":0.0023},{"x":1857,"y":0.0014},{"x":1860,"y":0.0019},{"x":1863,"y":0.0011},{"x":1866,"y":0.0017},{"x":1869,"y":0.0021},{"x":1872,"y":0.0013},{"x":1875,"y":0.0016},{"x":1878,"y":0.0010},{"x":1881,"y":0.0014},
    {"x":1883,"y":0.0018},{"x":1889,"y":0.0012},{"x":1891,"y":0.0020},{"x":1894,"y":0.0014},{"x":1897,"y":0.0017},{"x":1900,"y":0.0011},{"x":1903,"y":0.0016},{"x":1906,"y":0.0021},{"x":1908,"y":0.0015},{"x":1913,"y":0.0019},{"x":1916,"y":0.0013},{"x":1917,"y":0.0027},{"x":1920,"y":0.0017},{"x":1923,"y":0.0012},{"x":1926,"y":0.0020},{"x":1929,"y":0.0015},{"x":1932,"y":0.0010},{"x":1935,"y":0.0018},{"x":1938,"y":0.0013},{"x":1940,"y":0.0021},{"x":1942,"y":0.0016},{"x":1945,"y":0.0025},{"x":1947,"y":0.0012},{"x":1949,"y":0.0019},{"x":1952,"y":0.0014},{"x":1955,"y":0.0010},{"x":1958,"y":0.0017},
    {"x":1961,"y":0.0013},{"x":1964,"y":0.0018},{"x":1967,"y":0.0011},{"x":1970,"y":0.0015},{"x":1973,"y":0.0009},{"x":1976,"y":0.0017},{"x":1979,"y":0.0012},{"x":1982,"y":0.0020},{"x":1985,"y":0.0014},{"x":1988,"y":0.0010},{"x":1991,"y":0.0016},{"x":1994,"y":0.0012},{"x":1997,"y":0.0019},{"x":2000,"y":0.0011},{"x":2003,"y":0.0015},{"x":2006,"y":0.0008},{"x":2009,"y":0.0017},{"x":2012,"y":0.0013},{"x":2015,"y":0.0010},{"x":2018,"y":0.0016},{"x":2021,"y":0.0012},{"x":2024,"y":0.0019},{"x":2027,"y":0.0014},{"x":2030,"y":0.0009},{"x":2033,"y":0.0016},{"x":2036,"y":0.0012},{"x":2039,"y":0.0018},{"x":2042,"y":0.0014},{"x":2045,"y":0.0021},{"x":2048,"y":0.0016},
    {"x":2050,"y":0.0012},{"x":2053,"y":0.0017},{"x":2054,"y":0.0028},{"x":2056,"y":0.0010},{"x":2059,"y":0.0015},{"x":2060,"y":0.0007},{"x":2062,"y":0.0013},{"x":2065,"y":0.0018},{"x":2068,"y":0.0011},{"x":2071,"y":0.0016},{"x":2074,"y":0.0009},{"x":2077,"y":0.0014},{"x":2080,"y":0.0019},{"x":2083,"y":0.0012},{"x":2086,"y":0.0016},{"x":2089,"y":0.0010},{"x":2092,"y":0.0015},{"x":2095,"y":0.0020},{"x":2098,"y":0.0013},{"x":2101,"y":0.0009},{"x":2104,"y":0.0016},{"x":2107,"y":0.0012},{"x":2110,"y":0.0018},{"x":2113,"y":0.0014},{"x":2116,"y":0.0010},{"x":2119,"y":0.0017},{"x":2122,"y":0.0013},{"x":2125,"y":0.0008},{"x":2128,"y":0.0015},{"x":2131,"y":0.0019},{"x":2134,"y":0.0012},{"x":2137,"y":0.0016},{"x":2140,"y":0.0010},{"x":2143,"y":0.0018},{"x":2146,"y":0.0014},{"x":2149,"y":0.0020},
    {"x":2152,"y":0.0016},{"x":2155,"y":0.0021},{"x":2158,"y":0.0013},{"x":2161,"y":0.0018},{"x":2164,"y":0.0011},{"x":2169,"y":0.0024},{"x":2171,"y":0.0017},{"x":2174,"y":0.0013},{"x":2177,"y":0.0020},{"x":2180,"y":0.0015},{"x":2183,"y":0.0010},{"x":2186,"y":0.0018},{"x":2189,"y":0.0013},{"x":2192,"y":0.0021},{"x":2195,"y":0.0016},{"x":2198,"y":0.0011},{"x":2201,"y":0.0019},{"x":2204,"y":0.0014},{"x":2207,"y":0.0023},{"x":2210,"y":0.0017},{"x":2213,"y":0.0012},{"x":2216,"y":0.0019},{"x":2219,"y":0.0015},{"x":2222,"y":0.0022},{"x":2225,"y":0.0013},{"x":2228,"y":0.0018},{"x":2231,"y":0.0010},{"x":2234,"y":0.0016},{"x":2237,"y":0.0021},{"x":2240,"y":0.0013},{"x":2243,"y":0.0017},{"x":2246,"y":0.0024},{"x":2249,"y":0.0015},
    {"x":2252,"y":0.0020},{"x":2255,"y":0.0027},{"x":2258,"y":0.0016},{"x":2261,"y":0.0022},{"x":2264,"y":0.0012},{"x":2267,"y":0.0018},{"x":2270,"y":0.0025},{"x":2273,"y":0.0014},{"x":2276,"y":0.0019},{"x":2279,"y":0.0011},{"x":2282,"y":0.0017},{"x":2285,"y":0.0022},{"x":2288,"y":0.0014},{"x":2289,"y":0.0030},{"x":2292,"y":0.0019},{"x":2294,"y":0.0012},{"x":2297,"y":0.0008},{"x":2300,"y":0.0015},{"x":2303,"y":0.0010},{"x":2306,"y":0.0018},{"x":2309,"y":0.0013},{"x":2312,"y":0.0007},{"x":2315,"y":0.0016},{"x":2318,"y":0.0012},{"x":2321,"y":0.0019},{"x":2324,"y":0.0010},{"x":2327,"y":0.0015},{"x":2330,"y":0.0008},{"x":2333,"y":0.0018},{"x":2336,"y":0.0013},{"x":2339,"y":0.0022},{"x":2342,"y":0.0016},{"x":2345,"y":0.0012},{"x":2348,"y":0.0020},
    {"x":2351,"y":0.0024},{"x":2354,"y":0.0019},{"x":2357,"y":0.0028},{"x":2360,"y":0.0016},{"x":2363,"y":0.0022},{"x":2366,"y":0.0013},{"x":2369,"y":0.0026},{"x":2372,"y":0.0018},{"x":2375,"y":0.0023},{"x":2378,"y":0.0015},{"x":2381,"y":0.0021},{"x":2384,"y":0.0027},{"x":2387,"y":0.0017},{"x":2390,"y":0.0022},{"x":2393,"y":0.0014},{"x":2396,"y":0.0020},{"x":2399,"y":0.0025},{"x":2402,"y":0.0018},{"x":2405,"y":0.0023},{"x":2408,"y":0.0016},{"x":2411,"y":0.0021},{"x":2414,"y":0.0013},{"x":2417,"y":0.0019},{"x":2420,"y":0.0026},{"x":2423,"y":0.0017},{"x":2426,"y":0.0022},{"x":2429,"y":0.0015},{"x":2432,"y":0.0020},{"x":2435,"y":0.0027},{"x":2438,"y":0.0018},{"x":2441,"y":0.0023},{"x":2444,"y":0.0016},{"x":2447,"y":0.0021},{"x":2451,"y":0.0014},{"x":2453,"y":0.0020},{"x":2456,"y":0.0025},{"x":2459,"y":0.0017},{"x":2462,"y":0.0022},{"x":2465,"y":0.0019},{"x":2468,"y":0.0024},{"x":2471,"y":0.0016},{"x":2474,"y":0.0021},{"x":2477,"y":0.0018},{"x":2480,"y":0.0025},{"x":2483,"y":0.0019},{"x":2486,"y":0.0022},{"x":2489,"y":0.0015},{"x":2492,"y":0.0020},{"x":2495,"y":0.0023},{"x":2498,"y":0.0017},
    {"x":2501,"y":0.0016},{"x":2504,"y":0.0019},{"x":2507,"y":0.0012},{"x":2510,"y":0.0017},{"x":2513,"y":0.0021},{"x":2516,"y":0.0014},{"x":2519,"y":0.0018},{"x":2522,"y":0.0011},{"x":2525,"y":0.0015},{"x":2528,"y":0.0020},{"x":2531,"y":0.0013},{"x":2535,"y":0.0024},{"x":2538,"y":0.0017},{"x":2540,"y":0.0011},{"x":2543,"y":0.0019},{"x":2546,"y":0.0014},{"x":2549,"y":0.0021},{"x":2552,"y":0.0012},{"x":2555,"y":0.0016},{"x":2558,"y":0.0020},{"x":2560,"y":0.0013},{"x":2564,"y":0.0018},{"x":2566,"y":0.0025},{"x":2568,"y":0.0015},{"x":2570,"y":0.0011},{"x":2573,"y":0.0019},{"x":2576,"y":0.0014},{"x":2579,"y":0.0021},{"x":2582,"y":0.0012},{"x":2585,"y":0.0016},{"x":2588,"y":0.0020},{"x":2591,"y":0.0013},{"x":2593,"y":0.0017},{"x":2595,"y":0.0024},{"x":2599,"y":0.0015},{"x":2601,"y":0.0020},{"x":2604,"y":0.0012},{"x":2607,"y":0.0017}
  ]},
  "mark": {"type": "point", "shape": "circle", "filled": false, "stroke": "black", "strokeWidth": 1.7, "size": 200, "opacity": 1},
  "encoding": {
    "x": {
      "field": "x", "type": "quantitative",
      "scale": {"domain": [-103.3, 2713.3], "nice": false, "zero": false},
      "axis": {
        "title": "sample element",
        "values": [0, 500, 1000, 1500, 2000, 2500],
        "format": "d",
        "labelBaseline": "alphabetic",
        "labelPadding": 51,
        "titleBaseline": "alphabetic",
        "titleY": 147
      }
    },
    "y": {
      "field": "y", "type": "quantitative",
      "scale": {"domain": [-0.000174, 0.011855], "nice": false, "zero": false},
      "axis": {
        "title": "mcook",
        "values": [0, 0.002, 0.004, 0.006, 0.008, 0.01],
        "labelExpr": "datum.value == 0 || datum.value == 0.004 || datum.value == 0.008 ? format(datum.value, '.3f') : ''",
        "labelAngle": -90,
        "labelAlign": "center",
        "labelBaseline": "alphabetic",
        "labelPadding": 26,
        "titleAngle": -90,
        "titleBaseline": "alphabetic",
        "titleX": -122
      }
    }
  }
}
